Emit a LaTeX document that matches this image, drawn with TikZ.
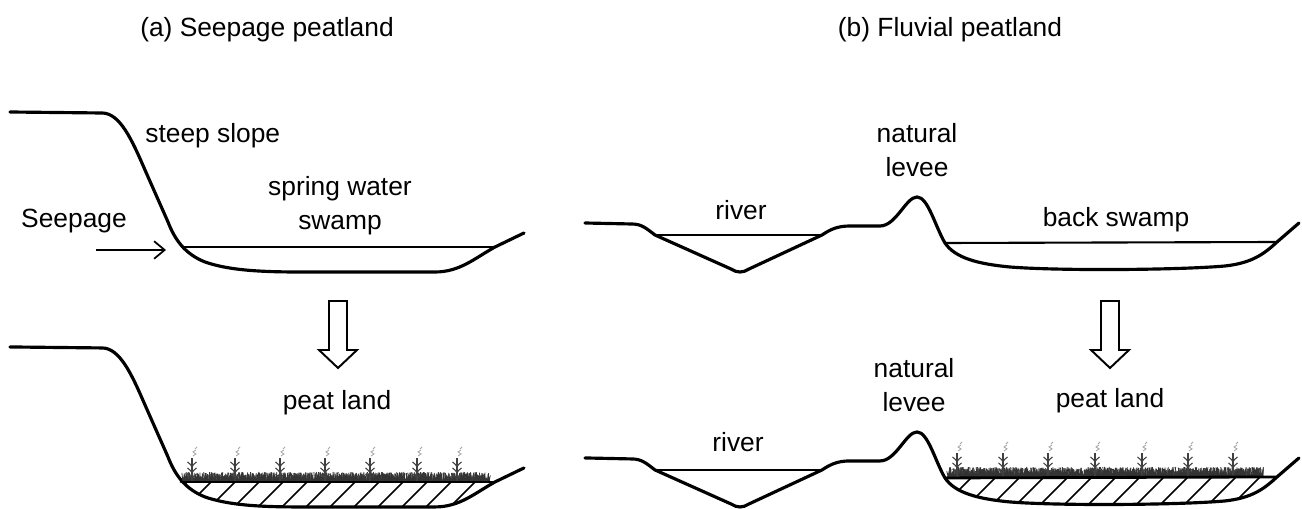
\documentclass[tikz,border=0pt]{standalone}
\usepackage{fontspec}
\setmainfont{Liberation Sans}
\usetikzlibrary{arrows.meta}

% ground profiles (pixel units, y pointing down)
\newcommand{\seepground}{(10,112) -- (102,113) .. controls (120,113) and (132,140) .. (145,170) -- (168,222) .. controls (175,240) and (185,254) .. (205,262) .. controls (228,270) and (258,272) .. (300,272) -- (435,272) .. controls (460,272) and (475,258) .. (495,247) -- (524,233)}
\newcommand{\fluvground}{(585,223) -- (632,224) .. controls (642,224) and (647,229) .. (655,235) -- (731,269) .. controls (737,273) and (743,273) .. (749,269) -- (822,235) .. controls (831,229) and (838,226) .. (850,226) -- (880,226) .. controls (896,226) and (906,197) .. (917,197) .. controls (928,197) and (935,226) .. (945,243) .. controls (955,258) and (978,264) .. (1010,267) .. controls (1060,271) and (1180,270) .. (1225,266) .. controls (1252,263) and (1264,254) .. (1277,242) -- (1299,223)}

% grass band: from x #1 to x #2 at level #3
\newcommand{\grassrow}[3]{%
  \foreach \gx in {#1,#1.2,...,#2} {
    \pgfmathsetmacro{\gh}{2+8*rnd}
    \pgfmathsetmacro{\gl}{3*rnd-1.5}
    \draw[grass] (\gx,#3) -- ++(\gl,-\gh);
  }}

\begin{document}
\begin{tikzpicture}[x=0.02cm, y=-0.02cm,
    ground/.style={line width=1.8pt, line cap=round, line join=round},
    water/.style={line width=1.2pt},
    peattop/.style={line width=1.6pt, line cap=round},
    hatch/.style={line width=0.9pt},
    grass/.style={line width=0.45pt, gray!40!black},
    plantline/.style={line width=0.6pt, gray!50!black},
    seedline/.style={line width=0.5pt, gray!70},
    lbl/.style={font=\fontsize{15}{19.4}\selectfont, align=center, inner sep=0pt},
    plant/.pic={
      \draw[plantline] (0,0) -- (0,-24);
      \foreach \h in {3,9,15}
        \draw[plantline] (-4.5,-\h-5) .. controls (-1,-\h-2) .. (0,-\h) .. controls (1,-\h-2) .. (4.5,-\h-5);
      \draw[seedline] (1,-26) -- (4,-28) -- (1,-30) -- (4,-32);
      \draw[seedline] (3,-33) -- (5,-35);
    },
    downarrow/.pic={
      \draw[line width=1.1pt, fill=white] (-9,0) -- (9,0) -- (9,49) -- (19,49) -- (0,67) -- (-19,49) -- (-9,49) -- cycle;
    }]
\useasboundingbox (0,0) rectangle (1302,509);
\pgfmathsetseed{7}

% Titles
\node[lbl, anchor=base] (titleA) at (267,37) {(a) Seepage peatland};
\node[lbl, anchor=base] (titleB) at (950,37) {(b) Fluvial peatland};

% (a) Seepage peatland, before
\draw[ground] \seepground;
\draw[water] (181,247) -- (495,247);
\node[lbl, anchor=base west] (slope) at (145,143) {steep slope};
\node[lbl] (spring) at (340,206) {spring water\\swamp};
\node[lbl, anchor=base] (seep) at (74,228) {Seepage};
\coordinate (seepin) at (96,250);
\coordinate (toe) at (166,250);
\draw[line width=1pt, -{Straight Barb[length=6pt,width=10pt]}] (seepin) -- (toe);
\pic at (338,301) {downarrow};

% (a) Seepage peatland, after
\begin{scope}[yshift=-4.7cm]
  \draw[ground] \seepground;
  \begin{scope}
    \clip (150,247) rectangle (530,300);
    \clip \seepground -- (524,0) -- (10,0) -- cycle;
    \foreach \hx in {120,144,...,530}
      \draw[hatch] (\hx,290) -- ++(50,-50);
  \end{scope}
  \grassrow{183}{490}{247}
  \foreach \px in {192,235,280,325,370,417,457}
    \pic at (\px,247) {plant};
  \draw[peattop] (181,247) -- (495,247);
\end{scope}
\node[lbl, anchor=base] (peatA) at (337,410) {peat land};

% (b) Fluvial peatland, before
\draw[ground] \fluvground;
\draw[water] (655,235) -- (822,235);
\draw[water] (945,243) -- (1277,242);
\node[lbl, anchor=base] (river) at (741,220) {river};
\node[lbl] (levee) at (917,150) {natural\\levee};
\node[lbl, anchor=base] (back) at (1116,227) {back swamp};
\pic at (1110,301) {downarrow};

% (b) Fluvial peatland, after
\begin{scope}[yshift=-4.7cm]
  \draw[ground] \fluvground;
  \draw[water] (655,235) -- (822,235);
  \begin{scope}
    \clip (930,242) rectangle (1300,290);
    \clip \fluvground -- (1299,0) -- (585,0) -- cycle;
    \foreach \hx in {900,924,...,1300}
      \draw[hatch] (\hx,290) -- ++(50,-50);
  \end{scope}
  \grassrow{948}{1263}{242}
  \foreach \px in {957,1003,1048,1095,1142,1188,1233}
    \pic at (\px,242) {plant};
  \draw[peattop] (945,243) -- (1277,242);
\end{scope}
\node[lbl, anchor=base] (river2) at (738,452) {river};
\node[lbl] (levee2) at (914,385) {natural\\levee};
\node[lbl, anchor=base] (peatB) at (1110,408) {peat land};
\end{tikzpicture}
\end{document}
